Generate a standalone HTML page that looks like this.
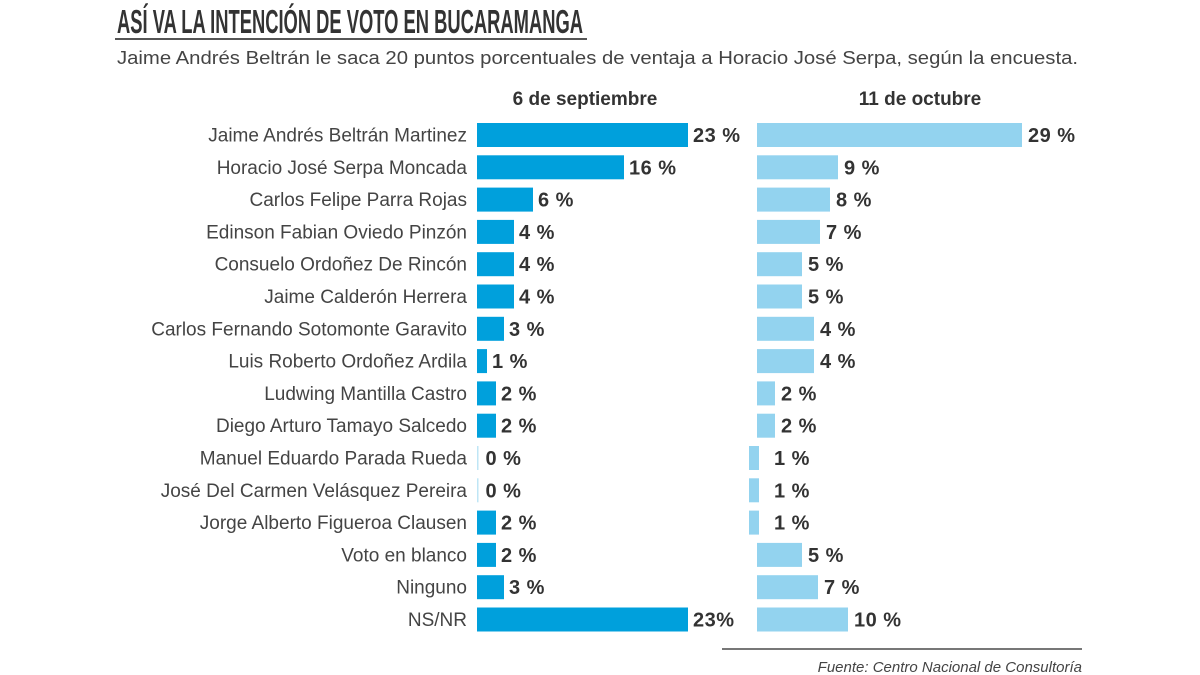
<!DOCTYPE html>
<html><head><meta charset="utf-8"><style>
html,body{margin:0;padding:0;background:#fff;}
svg{display:block;}
</style></head><body>
<svg width="1200" height="675" xmlns="http://www.w3.org/2000/svg" font-family="Liberation Sans, sans-serif">
<text x="117" y="33" font-size="33" font-weight="bold" fill="#333" textLength="466" lengthAdjust="spacingAndGlyphs">ASÍ VA LA INTENCIÓN DE VOTO EN BUCARAMANGA</text>
<rect x="115" y="38" width="472" height="2" fill="#555"/>
<text x="117" y="64" font-size="18" fill="#444" textLength="961" lengthAdjust="spacingAndGlyphs">Jaime Andrés Beltrán le saca 20 puntos porcentuales de ventaja a Horacio José Serpa, según la encuesta.</text>
<text x="585" y="105" font-size="19" font-weight="bold" fill="#333" text-anchor="middle">6 de septiembre</text>
<text x="920" y="105" font-size="19" font-weight="bold" fill="#333" text-anchor="middle">11 de octubre</text>
<g id="rows"></g>
<rect x="722" y="648" width="360" height="2" fill="#777"/>
<text x="1082" y="672" font-size="15" font-style="italic" fill="#444" text-anchor="end">Fuente: Centro Nacional de Consultoría</text>
</svg>
<script>
var d=[["Jaime Andrés Beltrán Martinez",211,"23 %",265,29],["Horacio José Serpa Moncada",147,"16 %",81,9],["Carlos Felipe Parra Rojas",56,"6 %",73,8],["Edinson Fabian Oviedo Pinzón",37,"4 %",63,7],["Consuelo Ordoñez De Rincón",37,"4 %",45,5],["Jaime Calderón Herrera",37,"4 %",45,5],["Carlos Fernando Sotomonte Garavito",27,"3 %",57,4],["Luis Roberto Ordoñez Ardila",10,"1 %",57,4],["Ludwing Mantilla Castro",19,"2 %",18,2],["Diego Arturo Tamayo Salcedo",19,"2 %",18,2],["Manuel Eduardo Parada Rueda",0,"0 %",0,1],["José Del Carmen Velásquez Pereira",0,"0 %",0,1],["Jorge Alberto Figueroa Clausen",19,"2 %",0,1],["Voto en blanco",19,"2 %",45,5],["Ninguno",27,"3 %",61,7],["NS/NR",211,"23%",91,10]];
var s="";
d.forEach(function(r,i){
 var y=123+i*32.3, cy=y+12;
 s+='<text x="467" y="'+(cy+6.5)+'" font-size="19" fill="#444" text-anchor="end">'+r[0]+'</text>';
 var w=r[1]==0?1.5:r[1];
 s+='<rect x="477" y="'+y+'" width="'+w+'" height="24" fill="'+(r[1]==0?'#bfe6f6':'#00a0dc')+'"/>';
 s+='<text x="'+(477+w+(r[1]==0?7:5))+'" y="'+(cy+7)+'" font-size="20" font-weight="bold" fill="#333" letter-spacing="0.5">'+r[2]+'</text>';
 var x2=r[3]==0?749:757, w2=r[3]==0?10:r[3];
 s+='<rect x="'+x2+'" y="'+y+'" width="'+w2+'" height="24" fill="#93d3ef"/>';
 s+='<text x="'+(x2+w2+(r[3]==0?15:6))+'" y="'+(cy+7)+'" font-size="20" font-weight="bold" fill="#333" letter-spacing="0.5">'+r[4]+' %</text>';
});
document.getElementById("rows").innerHTML=s;
</script>
</body></html>
